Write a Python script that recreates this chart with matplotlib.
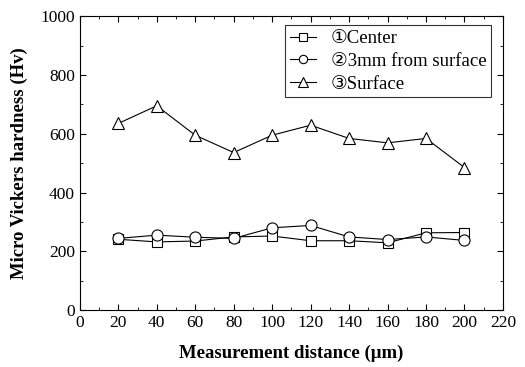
import matplotlib
matplotlib.use("Agg")
import matplotlib.pyplot as plt
from matplotlib.ticker import MultipleLocator

# data
distance = [20, 40, 60, 80, 100, 120, 140, 160, 180, 200]
center = [241, 232, 235, 249, 252, 236, 236, 229, 263, 264]
mm3 = [244, 255, 248, 244, 280, 288, 249, 240, 249, 237]
surface = [635, 695, 595, 536, 595, 629, 584, 569, 584, 485]
labels = ["\u2460Center", "\u24613mm from surface", "\u2462Surface"]

plt.rcParams['font.family'] = ['Liberation Serif', 'DejaVu Sans']

fig = plt.figure(figsize=(5.25, 3.67), dpi=100)
ax = fig.add_axes([0.152, 0.155, 0.806, 0.801])

style = dict(color='black', lw=0.8, mfc='white', mec='black', mew=0.8)
ax.plot(distance, center, marker='s', ms=7, label=labels[0], **style)
ax.plot(distance, mm3, marker='o', ms=8, label=labels[1], **style)
ax.plot(distance, surface, marker='^', ms=9, label=labels[2], **style)

ax.set_xlim(0, 220)
ax.set_ylim(0, 1000)
ax.xaxis.set_major_locator(MultipleLocator(20))
ax.xaxis.set_minor_locator(MultipleLocator(10))
ax.yaxis.set_major_locator(MultipleLocator(200))
ax.yaxis.set_minor_locator(MultipleLocator(100))
ax.tick_params(which='both', direction='in', top=True, right=True, labelsize=12.5)
ax.tick_params(which='major', length=4)
ax.tick_params(which='minor', length=2)
for s in ax.spines.values():
    s.set_linewidth(0.8)

ax.set_xlabel("Measurement distance (\u03bcm)", fontsize=13.5, fontweight='bold', labelpad=10)
ax.set_ylabel("Micro Vickers hardness (Hv)", fontsize=13.5, fontweight='bold', labelpad=9)

leg = ax.legend(loc='upper right', bbox_to_anchor=(0.972, 0.969), fontsize=13.5,
                frameon=True, fancybox=False, edgecolor='black', markerscale=0.75,
                handlelength=1.4, borderpad=0.25, labelspacing=0.3, handletextpad=0.8,
                borderaxespad=0)
leg.get_frame().set_linewidth(0.8)

fig.savefig("out.png", dpi=100)
